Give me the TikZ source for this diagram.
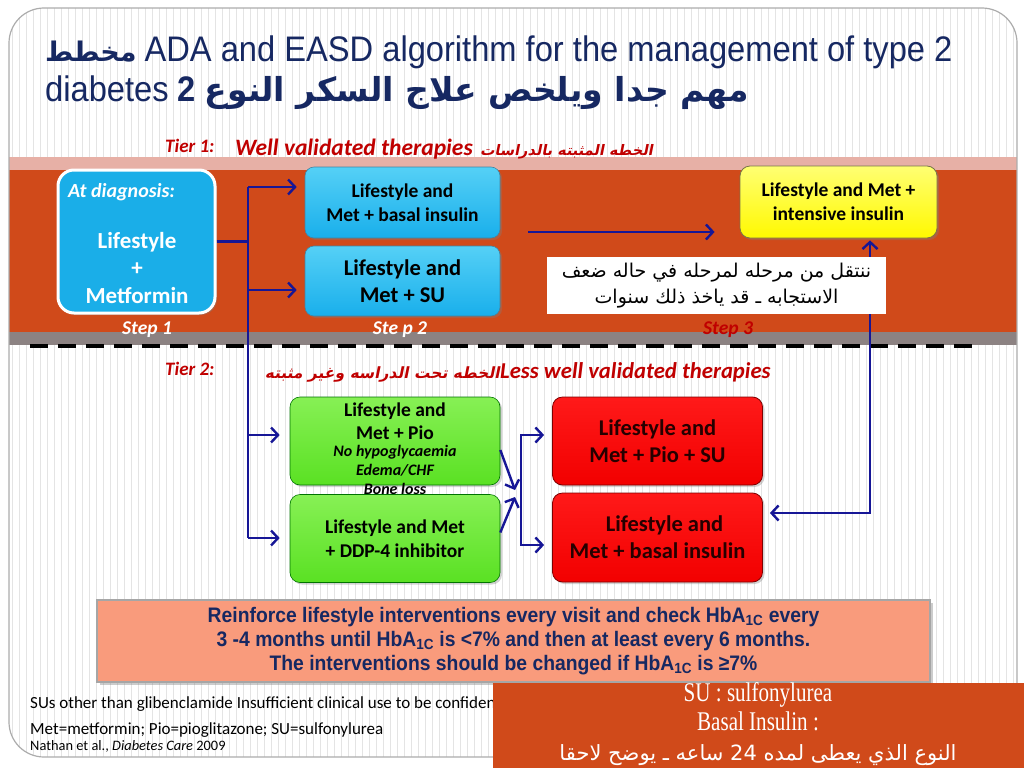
\documentclass[tikz,border=0pt]{standalone}
\usepackage{fontspec}
\usepackage{tikz}
\usetikzlibrary{arrows.meta,positioning,shadows}
\setmainfont{Carlito}
\newfontfamily\titlefont[FakeStretch=0.92]{Liberation Sans}
\newfontfamily\seriffont[FakeStretch=0.78]{Liberation Serif}
\newfontfamily\arabicfont[Script=Arabic]{DejaVu Sans}
\newfontfamily\arabicslant[Script=Arabic,FakeSlant=0.2]{DejaVu Sans}
\TeXXeTstate=1
\newcommand{\fsz}[2]{\fontsize{#1}{#2}\selectfont}

\definecolor{titlenavy}{RGB}{22,40,98}
\definecolor{bandred}{RGB}{208,74,26}
\definecolor{bandpink}{RGB}{231,176,166}
\definecolor{bandgray}{RGB}{140,130,130}
\definecolor{tierred}{RGB}{192,0,0}
\definecolor{arrowblue}{RGB}{22,22,150}
\definecolor{salmon}{RGB}{249,155,124}
\definecolor{stripegray}{RGB}{228,228,228}
\definecolor{diagcyan}{RGB}{26,174,232}
\definecolor{celltop}{RGB}{85,208,246}
\definecolor{cellbot}{RGB}{25,175,235}
\definecolor{greentop}{RGB}{135,240,85}
\definecolor{greenbot}{RGB}{90,225,35}

\tikzset{
  stripe/.style={stripegray, line width=0.8pt},
  tier/.style={text=tierred, font=\bfseries\itshape\fsz{19}{22}, inner sep=0pt},
  steplbl/.style={font=\bfseries\itshape\fsz{19.5}{22}, inner sep=0pt},
  bluebox/.style={rounded corners=9pt, top color=celltop, bottom color=cellbot,
    draw=cyan!60!black, line width=0.6pt, drop shadow={opacity=0.35,shadow xshift=2pt,shadow yshift=-2pt},
    minimum width=195pt, minimum height=71pt, align=center, inner sep=0pt, font=\bfseries},
  greenbox/.style={rounded corners=10pt, top color=greentop, bottom color=greenbot,
    draw=green!45!black, line width=0.6pt, drop shadow={opacity=0.35,shadow xshift=2pt,shadow yshift=-2pt},
    minimum width=210pt, minimum height=88pt, align=center, inner sep=0pt, font=\bfseries\fsz{19.5}{24}},
  redbox/.style={rounded corners=10pt, top color=red!90!white, bottom color=red!95!black,
    draw=red!50!black, line width=0.8pt, drop shadow={opacity=0.35,shadow xshift=2pt,shadow yshift=-2pt},
    minimum width=210pt, align=center, inner sep=0pt, text=black!85!red, font=\bfseries\fsz{22.5}{27}},
  arr/.style={arrowblue, line width=2.4pt, -{Straight Barb[length=7pt,width=15pt]}},
  wire/.style={arrowblue, line width=2.4pt},
}

\begin{document}
\begin{tikzpicture}[x=1pt,y=-1pt]
\useasboundingbox (0,0) rectangle (1024,768);
\begin{scope}
  \clip[rounded corners=35pt] (9,8) rectangle (1017,757);
  \fill[white] (9,8) rectangle (1017,757);
  \foreach \x in {12,19,...,1016} \draw[stripe] (\x,8) -- (\x,757);
  \fill[bandpink] (9,157) rectangle (1017,170);
  \fill[bandred] (9,170) rectangle (1017,332);
  \fill[bandgray] (9,332) rectangle (1017,345);
\end{scope}
\draw[gray!65, line width=1.2pt, rounded corners=35pt] (9,8) rectangle (1017,757);
\draw[black, line width=4pt, dash pattern=on 18pt off 10pt] (30,346) -- (975,346);

% title
\node[anchor=base west, inner sep=0pt, text=titlenavy] (title1) at (45,61)
  {{\arabicfont\bfseries\fsz{27}{32}\beginR مخطط\endR}\hspace{8pt}{\titlefont\fsz{35.5}{40}ADA and EASD algorithm for the management of type 2}};
\node[anchor=base west, inner sep=0pt, text=titlenavy] (title2) at (45,101)
  {{\titlefont\fsz{35.5}{40}diabetes \bfseries 2}\hspace{9pt}{\arabicfont\bfseries\fsz{33}{38}\beginR مهم جدا ويلخص علاج السكر النوع\endR}};

% tier 1
\node[tier, anchor=base west] (tier1) at (165,152) {Tier 1:};
\node[tier, anchor=base west, font=\bfseries\itshape\fsz{23.5}{26}] (well) at (235,155) {Well validated therapies};
\node[tier, anchor=base west] (wellar) at ([xshift=7pt]well.base east)
  {\arabicslant\bfseries\upshape\fsz{14.5}{18}\beginR الخطه المثبته بالدراسات\endR};

% step 1
\node[rounded corners=16pt, fill=diagcyan, draw=white, line width=3pt,
  drop shadow={opacity=0.4,shadow xshift=2pt,shadow yshift=-2pt},
  minimum width=157pt, minimum height=143pt] (diag) at (136.5,241.5) {};
\node[anchor=base west, text=white, font=\bfseries\itshape\fsz{20}{22}, inner sep=0pt] (diaglbl) at (68,197) {At diagnosis:};
\node[text=white, font=\bfseries\fsz{23}{27.5}, align=center, inner sep=0pt] (diagtxt) at (137,268) {Lifestyle\\+\\Metformin};

% step 2
\node[bluebox, font=\bfseries\fsz{19.5}{23.5}] (basal) at (402.5,202.5) {Lifestyle and\\Met + basal insulin};
\node[bluebox, font=\bfseries\fsz{22.5}{27}, minimum height=70pt] (metsu) at (402.5,281) {Lifestyle and\\Met + SU};

% step 3
\node[rounded corners=10pt, top color=yellow!55!white, bottom color=yellow!95!orange, draw=yellow!40!black,
  line width=0.8pt, drop shadow={opacity=0.35,shadow xshift=2pt,shadow yshift=-2pt},
  minimum width=197pt, minimum height=72pt, align=center, inner sep=0pt, font=\bfseries\fsz{19.5}{24}] (intens) at (838.5,202) {Lifestyle and Met +\\intensive insulin};

\node[steplbl, text=white] (step1) at (147,330) {Step 1};
\node[steplbl, text=white] (step2) at (400,330) {Ste p 2};
\node[steplbl, text=tierred] (step3) at (728,330) {Step 3};

% tier 2
\node[tier, anchor=base west] (tier2) at (165,375) {Tier 2:};
\node[tier, anchor=base west, font=\bfseries\itshape\fsz{22.7}{26}] (less) at (500,378) {Less well validated therapies};
\node[tier, anchor=base east] (lessar) at (less.base west)
  {\arabicslant\bfseries\upshape\fsz{15.5}{18}\beginR الخطه تحت الدراسه وغير مثبته\endR};

\node[greenbox] (pio) at (395,441) {};
\node[greenbox] (ddp) at (395,538.5) {Lifestyle and Met\\+ DDP-4 inhibitor};
\node[font=\bfseries\fsz{19.5}{23}, align=center, inner sep=0pt] (piotxt) at (395,421) {Lifestyle and\\Met + Pio};
\node[font=\bfseries\itshape\fsz{16}{19}, align=center, inner sep=0pt] (piorisk) at (395,470) {No hypoglycaemia\\Edema/CHF\\Bone loss};

\node[redbox, minimum height=88pt] (piosu) at (657.5,441) {Lifestyle and\\Met + Pio + SU};
\node[redbox, minimum height=89pt] (redbasal) at (657.5,537.5) {\hspace*{14pt}Lifestyle and\\Met + basal insulin};

% connectors
\coordinate (j1) at (248,187);
\coordinate (j2) at (248,290);
\coordinate (j3) at (248,435);
\coordinate (j4) at (248,538);
\draw[wire] (diag.east) -- (diag.east -| j1);
\draw[wire] (j1) -- (j4);
\draw[arr, shorten >=8pt] (j1) -- (j1 -| basal.west);
\draw[arr, shorten >=8pt] (j2) -- (j2 -| metsu.west);
\draw[arr, shorten >=10pt] (j3) -- (j3 -| pio.west);
\draw[arr, shorten >=10pt] (j4) -- (j4 -| ddp.west);

\coordinate (s3) at (528,232);
\draw[arr, shorten >=25pt] (s3) -- (s3 -| intens.west);

\coordinate (m1) at (515,490);
\coordinate (m2) at (515,497);
\draw[arr] ([yshift=-9pt]pio.east) -- (m1);
\draw[arr] ([yshift=6pt]ddp.east) -- (m2);
\coordinate (b1) at (521,435);
\coordinate (b2) at (521,545);
\draw[wire, {Straight Barb[length=7pt,width=15pt]}-{Straight Barb[length=7pt,width=15pt]}, shorten <=8pt, shorten >=8pt]
  (b1 -| piosu.west) -- (b1) -- (b2) -- (b2 -| redbasal.west);

\coordinate (fb) at (870,513);
\draw[wire, {Straight Barb[length=7pt,width=15pt]}-{Straight Barb[length=7pt,width=15pt]}, shorten <=2pt, shorten >=7pt]
  (fb |- intens.south) -- (fb) -- (fb -| redbasal.east);

\node[fill=white, minimum width=339pt, minimum height=57pt, inner sep=0pt, align=center,
  font=\arabicfont\fsz{19}{26}] (note) at (716.5,285.5)
  {\beginR ننتقل من مرحله لمرحله في حاله ضعف\endR\\\beginR الاستجابه ـ قد ياخذ ذلك سنوات\endR};

% bottom
\node[fill=salmon, draw=gray!70, line width=1.5pt, drop shadow={opacity=0.4,shadow xshift=3pt,shadow yshift=-3pt},
  minimum width=833pt, minimum height=82pt, inner sep=0pt, align=center, text=titlenavy,
  font=\titlefont\bfseries\fsz{21}{24}] (reinforce) at (513.5,641)
  {Reinforce lifestyle interventions every visit and check HbA\textsubscript{1C} every\\
   3 -4 months until HbA\textsubscript{1C} is <7\% and then at least every 6 months.\\
   The interventions should be changed if HbA\textsubscript{1C} is ≥7\%};

\node[anchor=base west, inner sep=0pt, font=\fsz{17}{19}] (fn1) at (30,708) {SUs other than glibenclamide Insufficient clinical use to be confident};
\node[anchor=base west, inner sep=0pt, font=\fsz{17}{19}] (fn2) at (30,734) {Met=metformin; Pio=pioglitazone; SU=sulfonylurea};
\node[anchor=base west, inner sep=0pt, font=\fsz{14.4}{16}] (fn3) at (30,750) {Nathan et al., \textit{Diabetes Care} 2009};

\node[fill=bandred, minimum width=531pt, minimum height=85pt, inner sep=0pt] (glossary) at (758.5,725.5) {};
\node[text=white, font=\seriffont\fsz{27}{29}, align=center, inner sep=0pt] (glosstxt) at (758,707)
  {SU : sulfonylurea\\Basal Insulin :};
\node[text=white, font=\arabicfont\fsz{21}{24}, inner sep=0pt, anchor=base] (glossar) at (758,760)
  {\beginR النوع الذي يعطى لمده 24 ساعه ـ يوضح لاحقا\endR};
\end{tikzpicture}
\end{document}
